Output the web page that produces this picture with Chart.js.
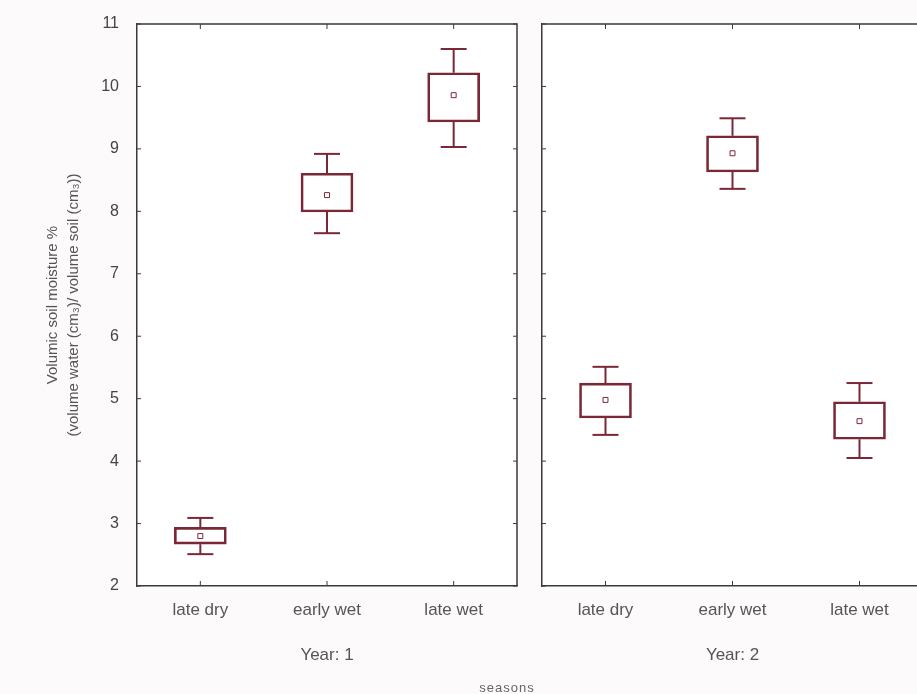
<!DOCTYPE html>
<html>
<head>
<meta charset="utf-8">
<script src="https://cdn.jsdelivr.net/npm/chart.js@4/dist/chart.umd.min.js"></script>
<style>
  html, body { margin: 0; padding: 0; background: #fcfafb; overflow: hidden; }
  body { width: 917px; height: 694px; position: relative; }
  #year1 { position: absolute; left: 0; top: 0; }
  #year2 { position: absolute; left: 530px; top: 0; }
  #seasons {
    position: absolute; left: 0; width: 1014px; top: 680px;
    text-align: center; font: 13px "Liberation Sans", Arial, sans-serif;
    color: #666; letter-spacing: 1px;
  }
</style>
</head>
<body>
<canvas id="year1" width="530" height="694"></canvas>
<canvas id="year2" width="400" height="694"></canvas>
<div id="seasons">seasons</div>
<script>
// seasons on the x axis
const seasons = ['late dry', 'early wet', 'late wet'];

// Year 1: mean, box (lower/upper) and whiskers (lower/upper)
const year1Mean = [2.80, 8.26, 9.86];
const year1BoxLo = [2.67, 7.99, 9.43];
const year1BoxHi = [2.94, 8.61, 10.22];
const year1WhiskLo = [2.51, 7.65, 9.03];
const year1WhiskHi = [3.09, 8.92, 10.60];

// Year 2
const year2Mean = [4.98, 8.93, 4.64];
const year2BoxLo = [4.69, 8.63, 4.35];
const year2BoxHi = [5.25, 9.21, 4.95];
const year2WhiskLo = [4.42, 8.36, 4.05];
const year2WhiskHi = [5.51, 9.49, 5.25];

// y axis range
const yMin = 2;
const yMax = 11;

const boxColor = '#7a2836';
const frameColor = '#3a3a3a';
const textColor = '#555';
const fontFamily = '"Liberation Sans", Arial, sans-serif';

// whiskers + inward ticks + closing frame lines
const boxFrame = {
  id: 'boxFrame',
  beforeDraw(chart) {
    const a = chart.chartArea;
    const ctx = chart.ctx;
    ctx.save();
    ctx.fillStyle = '#ffffff';
    ctx.fillRect(a.left, a.top, a.right - a.left, a.bottom - a.top);
    ctx.restore();
  },
  afterDatasetsDraw(chart, args, opts) {
    const ctx = chart.ctx;
    const x = chart.scales.x;
    const y = chart.scales.y;
    const a = chart.chartArea;
    ctx.save();
    ctx.strokeStyle = boxColor;
    ctx.lineWidth = 2;
    opts.lo.forEach((lo, i) => {
      const cx = x.getPixelForValue(i);
      const segs = [[opts.hi[i], opts.boxHi[i]], [opts.boxLo[i], lo]];
      segs.forEach(([v1, v2]) => {
        ctx.beginPath();
        ctx.moveTo(cx, y.getPixelForValue(v1));
        ctx.lineTo(cx, y.getPixelForValue(v2));
        ctx.stroke();
      });
      [opts.hi[i], lo].forEach(v => {
        const py = y.getPixelForValue(v);
        ctx.beginPath();
        ctx.moveTo(cx - 13, py);
        ctx.lineTo(cx + 13, py);
        ctx.stroke();
      });
    });

    // frame
    ctx.strokeStyle = frameColor;
    ctx.lineWidth = 1.5;
    ctx.beginPath();
    ctx.moveTo(a.left, a.top);
    ctx.lineTo(a.right, a.top);
    ctx.lineTo(a.right, a.bottom);
    ctx.stroke();

    ctx.lineWidth = 1;
    ctx.beginPath();
    seasons.forEach((s, i) => {
      const px = x.getPixelForValue(i);
      ctx.moveTo(px, a.top);
      ctx.lineTo(px, a.top + 5);
      ctx.moveTo(px, a.bottom);
      ctx.lineTo(px, a.bottom - 5);
    });
    for (let v = yMin; v <= yMax; v++) {
      const py = y.getPixelForValue(v);
      ctx.moveTo(a.left, py);
      ctx.lineTo(a.left + 4, py);
      ctx.moveTo(a.right, py);
      ctx.lineTo(a.right - 4, py);
    }
    ctx.stroke();
    ctx.restore();
  }
};

function makeChart(id, title, mean, boxLo, boxHi, whiskLo, whiskHi, showY, padding) {
  return new Chart(document.getElementById(id), {
    type: 'bar',
    data: {
      labels: seasons,
      datasets: [
        {
          data: boxLo.map((lo, i) => [lo, boxHi[i]]),
          backgroundColor: 'rgba(255,255,255,0)',
          borderColor: boxColor,
          borderWidth: 2,
          borderSkipped: false,
          barThickness: 52
        },
        {
          type: 'line',
          data: mean,
          showLine: false,
          pointStyle: 'rect',
          pointRadius: 3.5,
          borderWidth: 1,
          borderColor: boxColor,
          backgroundColor: 'rgba(255,255,255,0)'
        }
      ]
    },
    options: {
      responsive: false,
      animation: false,
      layout: { padding: padding },
      plugins: {
        legend: { display: false },
        tooltip: { enabled: false },
        boxFrame: { lo: whiskLo, hi: whiskHi, boxLo: boxLo, boxHi: boxHi }
      },
      scales: {
        x: {
          grid: { display: false },
          border: { display: true, color: frameColor, width: 1.5 },
          ticks: { color: textColor, font: { family: fontFamily, size: 17 }, padding: 6 },
          title: {
            display: true, text: title, color: textColor,
            font: { family: fontFamily, size: 17 }, padding: { top: 0, bottom: 28 }
          },
          afterFit(scale) { scale.height = 108; }
        },
        y: {
          min: yMin,
          max: yMax,
          grid: { display: false },
          border: { display: true, color: frameColor, width: 1.5 },
          ticks: {
            display: showY, stepSize: 1, color: '#444', padding: 10,
            font: { family: fontFamily, size: 16 }
          },
          title: {
            display: showY,
            text: ['Volumic soil moisture %', '(volume water (cm\u2083)/ volume soil (cm\u2083))'],
            color: textColor,
            font: { family: fontFamily, size: 15, lineHeight: 1.35 },
            padding: { top: 43, bottom: 0 }
          },
          afterFit(scale) { scale.width = showY ? 137 : 0; }
        }
      }
    },
    plugins: [boxFrame]
  });
}

makeChart('year1', 'Year: 1', year1Mean, year1BoxLo, year1BoxHi, year1WhiskLo, year1WhiskHi,
  true, { top: 24, right: 13, left: 0, bottom: 0 });
makeChart('year2', 'Year: 2', year2Mean, year2BoxLo, year2BoxHi, year2WhiskLo, year2WhiskHi,
  false, { top: 24, right: 7, left: 12, bottom: 0 });
</script>
</body>
</html>
